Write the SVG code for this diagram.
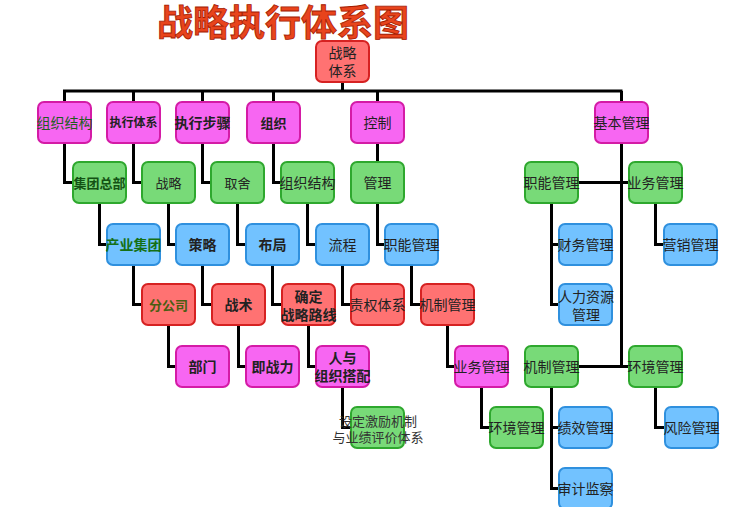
<svg xmlns="http://www.w3.org/2000/svg" width="745" height="507" viewBox="0 0 745 507">
<style>
rect.n{stroke-width:2;rx:6;ry:6}
.pink{fill:#F766F2;stroke:#D41BA6}
.green{fill:#78DA78;stroke:#2EA82E}
.blue{fill:#72C2FF;stroke:#2F90DE}
.red{fill:#FF7272;stroke:#D62222}
text{font-family:"Noto Sans CJK SC","Noto Sans",sans-serif;font-size:14px;fill:#222;text-anchor:middle}
text.b{font-weight:bold}
text.g{fill:#1F5E1F}
.conn path{fill:none;stroke:#000;stroke-width:3}
</style>
<rect width="745" height="507" fill="#fff"/>
<text x="283" y="36" style="font-size:36px;font-weight:bold;fill:#E8441C;stroke:#A51A00;stroke-width:0.8">战略执行体系图</text>
<g class="conn">
<path d="M342.5 82V91M63 91H622.5"/>
<path d="M64.5 91V102M133.5 91V102M202.5 91V102M273.5 91V102M377.5 91V102M621.5 91V102"/>
<path d="M64.5 143V182.5H73"/>
<path d="M99.5 203V244.5H107"/>
<path d="M133.5 265V304.5H142"/>
<path d="M168.5 325V366.5H176"/>
<path d="M133.5 143V182.5H142"/>
<path d="M168.5 203V244.5H176"/>
<path d="M202.5 265V304.5H212"/>
<path d="M238.5 325V366.5H246"/>
<path d="M202.5 143V182.5H211"/>
<path d="M237.5 203V244.5H246"/>
<path d="M272.5 265V304.5H282"/>
<path d="M308.5 325V366.5H316"/>
<path d="M273.5 143V182.5H281"/>
<path d="M307.5 203V244.5H316"/>
<path d="M342.5 265V304.5H351"/>
<path d="M342.5 387V427.5H351"/>
<path d="M377.5 143V162"/>
<path d="M377.5 203V244.5H385"/>
<path d="M411.5 265V304.5H421"/>
<path d="M447.5 325V366.5H455"/>
<path d="M481.5 387V427.5H490"/>
<path d="M621.5 143V366.5"/>
<path d="M578 182.5H629"/>
<path d="M578 366.5H629"/>
<path d="M551.5 203V304.5H559M551.5 244.5H559"/>
<path d="M655.5 203V244.5H664"/>
<path d="M551.5 387V488.5H559M551.5 427.5H559"/>
<path d="M655.5 387V427.5H665"/>
</g>
<g id="n-root"><rect class="n red" x="316" y="41" width="53" height="41"/><text x="342.5" y="58">战略</text><text x="342.5" y="76">体系</text></g>
<g id="n-zzjg1"><rect class="n pink" x="38" y="102" width="53" height="41"/><text class="g" x="64.5" y="127.5">组织结构</text></g>
<g id="n-zxtx"><rect class="n pink" x="107" y="102" width="53" height="41"/><text class="b" x="133.5" y="127" style="font-size:12px">执行体系</text></g>
<g id="n-zxbz"><rect class="n pink" x="176" y="102" width="53" height="41"/><text class="b" x="202.5" y="128">执行步骤</text></g>
<g id="n-zz"><rect class="n pink" x="247" y="102" width="53" height="41"/><text class="b" x="273.5" y="127.5" style="font-size:13px">组织</text></g>
<g id="n-kz"><rect class="n pink" x="351" y="102" width="53" height="41"/><text x="377.5" y="127.5">控制</text></g>
<g id="n-jbgl"><rect class="n pink" x="595" y="102" width="53" height="41"/><text x="621.5" y="127.5">基本管理</text></g>
<g id="n-jtzb"><rect class="n green" x="73" y="162" width="53" height="41"/><text class="b" x="99.5" y="187.5" style="fill:#145214;font-size:13px">集团总部</text></g>
<g id="n-zl"><rect class="n green" x="142" y="162" width="53" height="41"/><text x="168.5" y="187.5" style="font-size:13px">战略</text></g>
<g id="n-qs"><rect class="n green" x="211" y="162" width="53" height="41"/><text x="237.5" y="187.5" style="font-size:13px">取舍</text></g>
<g id="n-zzjg2"><rect class="n green" x="281" y="162" width="53" height="41"/><text x="307.5" y="187.5">组织结构</text></g>
<g id="n-gl"><rect class="n green" x="351" y="162" width="53" height="41"/><text x="377.5" y="187.5">管理</text></g>
<g id="n-zngl-g"><rect class="n green" x="525" y="162" width="53" height="41"/><text x="551.5" y="187.5">职能管理</text></g>
<g id="n-ywgl-g"><rect class="n green" x="629" y="162" width="53" height="41"/><text x="655.5" y="187.5">业务管理</text></g>
<g id="n-cyjt"><rect class="n blue" x="107" y="224" width="53" height="41"/><text class="b" x="133.5" y="249.5" style="fill:#157015">产业集团</text></g>
<g id="n-cl"><rect class="n blue" x="176" y="224" width="53" height="41"/><text class="b" x="202.5" y="249.5">策略</text></g>
<g id="n-bj"><rect class="n blue" x="246" y="224" width="53" height="41"/><text class="b" x="272.5" y="249.5">布局</text></g>
<g id="n-lc"><rect class="n blue" x="316" y="224" width="53" height="41"/><text x="342.5" y="249.5">流程</text></g>
<g id="n-zngl-b"><rect class="n blue" x="385" y="224" width="53" height="41"/><text x="411.5" y="249.5">职能管理</text></g>
<g id="n-cwgl"><rect class="n blue" x="559" y="224" width="53" height="41"/><text x="585.5" y="249.5">财务管理</text></g>
<g id="n-yxgl"><rect class="n blue" x="664" y="224" width="53" height="41"/><text x="690.5" y="249.5">营销管理</text></g>
<g id="n-fgs"><rect class="n red" x="142" y="284" width="53" height="41"/><text class="b" x="168.5" y="309.5" style="fill:#4A5E12;font-size:13px">分公司</text></g>
<g id="n-zs"><rect class="n red" x="212" y="284" width="53" height="41"/><text class="b" x="238.5" y="309.5">战术</text></g>
<g id="n-qdzllx"><rect class="n red" x="282" y="284" width="53" height="41"/><text class="b" x="308.5" y="302">确定</text><text class="b" x="308.5" y="320">战略路线</text></g>
<g id="n-zqtx"><rect class="n red" x="351" y="284" width="53" height="41"/><text x="377.5" y="309.5">责权体系</text></g>
<g id="n-jzgl-r"><rect class="n red" x="421" y="284" width="53" height="41"/><text x="447.5" y="309.5">机制管理</text></g>
<g id="n-rlzy"><rect class="n blue" x="559" y="284" width="53" height="41"/><text x="586" y="302">人力资源</text><text x="586" y="320">管理</text></g>
<g id="n-bm"><rect class="n pink" x="176" y="346" width="53" height="41"/><text class="b" x="202.5" y="371.5">部门</text></g>
<g id="n-jzl"><rect class="n pink" x="246" y="346" width="53" height="41"/><text class="b" x="272.5" y="371.5">即战力</text></g>
<g id="n-ryzz"><rect class="n pink" x="316" y="346" width="53" height="41"/><text class="b" x="342.5" y="363">人与</text><text class="b" x="342.5" y="381">组织搭配</text></g>
<g id="n-ywgl-p"><rect class="n pink" x="455" y="346" width="53" height="41"/><text x="481.5" y="371.5">业务管理</text></g>
<g id="n-jzgl-g"><rect class="n green" x="525" y="346" width="53" height="41"/><text x="551.5" y="371.5">机制管理</text></g>
<g id="n-hjgl-g1"><rect class="n green" x="629" y="346" width="53" height="41"/><text x="655.5" y="371.5">环境管理</text></g>
<g id="n-sdjl"><rect class="n green" x="351" y="407" width="53" height="41"/><text x="378" y="426" style="font-size:13px;fill:#333">设定激励机制</text><text x="378" y="442" style="font-size:13px;fill:#333">与业绩评价体系</text></g>
<g id="n-hjgl-g2"><rect class="n green" x="490" y="407" width="53" height="41"/><text x="516.5" y="432.5">环境管理</text></g>
<g id="n-jxgl"><rect class="n blue" x="559" y="407" width="53" height="41"/><text x="585.5" y="432.5">绩效管理</text></g>
<g id="n-fxgl"><rect class="n blue" x="665" y="407" width="53" height="41"/><text x="691.5" y="432.5">风险管理</text></g>
<g id="n-sjjc"><rect class="n blue" x="559" y="468" width="53" height="41"/><text x="585.5" y="493.5">审计监察</text></g>
</svg>
